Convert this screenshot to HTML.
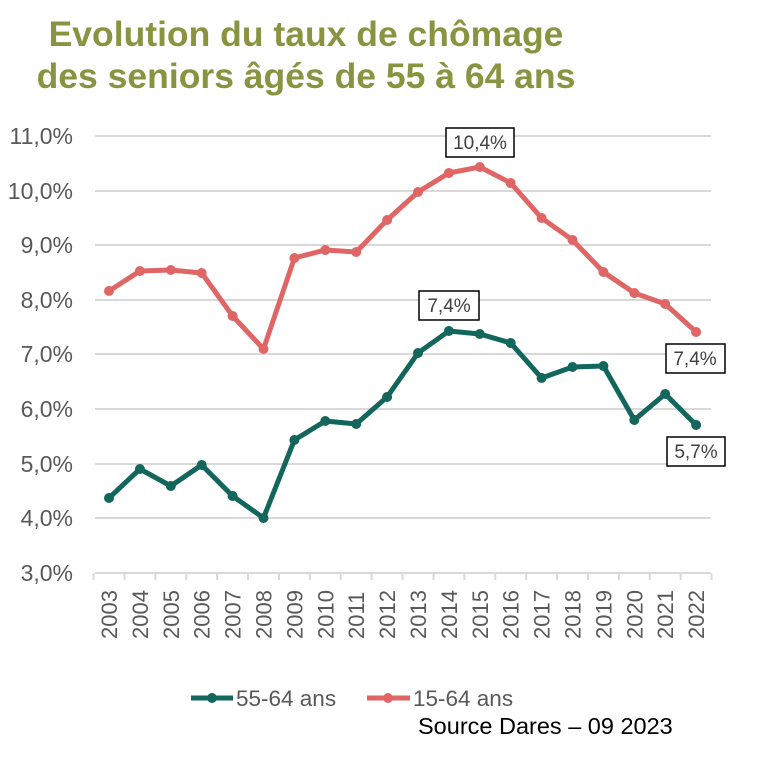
<!DOCTYPE html>
<html><head><meta charset="utf-8"><style>
body{margin:0;background:#fff;width:771px;height:760px;overflow:hidden}
svg{display:block}
text{font-family:"Liberation Sans",Arial,sans-serif}
</style></head><body>
<svg width="771" height="760" viewBox="0 0 771 760">
<text x="306" y="46" text-anchor="middle" font-size="35.5" font-weight="bold" fill="#8a9440">Evolution du taux de chômage</text>
<text x="306" y="88" text-anchor="middle" font-size="35.5" font-weight="bold" fill="#8a9440">des seniors âgés de 55 à 64 ans</text>
<g stroke="#d9d9d9" stroke-width="2">
<line x1="95" x2="711" y1="136" y2="136"/><line x1="95" x2="711" y1="191" y2="191"/>
<line x1="95" x2="711" y1="245" y2="245"/><line x1="95" x2="711" y1="300" y2="300"/>
<line x1="95" x2="711" y1="354" y2="354"/><line x1="95" x2="711" y1="409" y2="409"/>
<line x1="95" x2="711" y1="464" y2="464"/><line x1="95" x2="711" y1="518" y2="518"/>
<line x1="95" x2="711" y1="573" y2="573"/>
</g>
<g font-size="23" fill="#595959" text-anchor="end">
<text x="73" y="144">11,0%</text><text x="73" y="199">10,0%</text><text x="73" y="253">9,0%</text>
<text x="73" y="308">8,0%</text><text x="73" y="362">7,0%</text><text x="73" y="417">6,0%</text>
<text x="73" y="472">5,0%</text><text x="73" y="526">4,0%</text><text x="73" y="581">3,0%</text>
</g>
<g id="ticks" stroke="#d9d9d9" stroke-width="2"></g>
<g id="years" font-size="22" fill="#595959"></g>
<polyline id="red" fill="none" stroke="#e06666" stroke-width="5" stroke-linejoin="round"/>
<g id="redp" fill="#e06666"></g>
<polyline id="grn" fill="none" stroke="#12665c" stroke-width="5" stroke-linejoin="round"/>
<g id="grnp" fill="#12665c"></g>
<g font-size="19" fill="#404040" text-anchor="middle">
<rect x="446" y="128" width="68" height="29" fill="#fff" stroke="#000" stroke-width="1.5"/><text x="480" y="149">10,4%</text>
<rect x="419" y="291" width="60" height="29" fill="#fff" stroke="#000" stroke-width="1.5"/><text x="449" y="312">7,4%</text>
<rect x="666" y="344" width="59" height="29" fill="#fff" stroke="#000" stroke-width="1.5"/><text x="695" y="365">7,4%</text>
<rect x="667" y="437" width="58" height="29" fill="#fff" stroke="#000" stroke-width="1.5"/><text x="696" y="458">5,7%</text>
</g>
<line x1="191" x2="233" y1="698" y2="698" stroke="#12665c" stroke-width="5"/><circle cx="212" cy="698" r="5" fill="#12665c"/>
<text x="236" y="706" font-size="22.5" fill="#595959">55-64 ans</text>
<line x1="367" x2="410" y1="698" y2="698" stroke="#e06666" stroke-width="5"/><circle cx="388" cy="698" r="5" fill="#e06666"/>
<text x="413" y="706" font-size="22.5" fill="#595959">15-64 ans</text>
<text x="418" y="734" font-size="23.5" fill="#000">Source Dares – 09 2023</text>
</svg>
<script>
var ns="http://www.w3.org/2000/svg";
var r=[291,271,270,273,316,349,258,250,252,220,192,173,167,183,218,240,272,293,304,332];
var g=[498,469,486,465,496,518,440,421,424,397,353,331,334,343,378,367,366,420,394,425];
var x0=109,st=30.9,rp=[],gp=[];
function el(t,a,p){var e=document.createElementNS(ns,t);for(var k in a)e.setAttribute(k,a[k]);document.getElementById(p).appendChild(e);return e;}
for(var i=0;i<20;i++){var x=x0+i*st;rp.push(x+","+r[i]);gp.push(x+","+g[i]);
el("circle",{cx:x,cy:r[i],r:5},"redp");el("circle",{cx:x,cy:g[i],r:5},"grnp");
var t=el("text",{transform:"translate("+(x+8)+",639) rotate(-90)"},"years");t.textContent=2003+i;}
for(var i=0;i<=20;i++){var x=x0-st/2+i*st;el("line",{x1:x,x2:x,y1:573,y2:580},"ticks");}
document.getElementById("red").setAttribute("points",rp.join(" "));
document.getElementById("grn").setAttribute("points",gp.join(" "));
</script>
</body></html>
